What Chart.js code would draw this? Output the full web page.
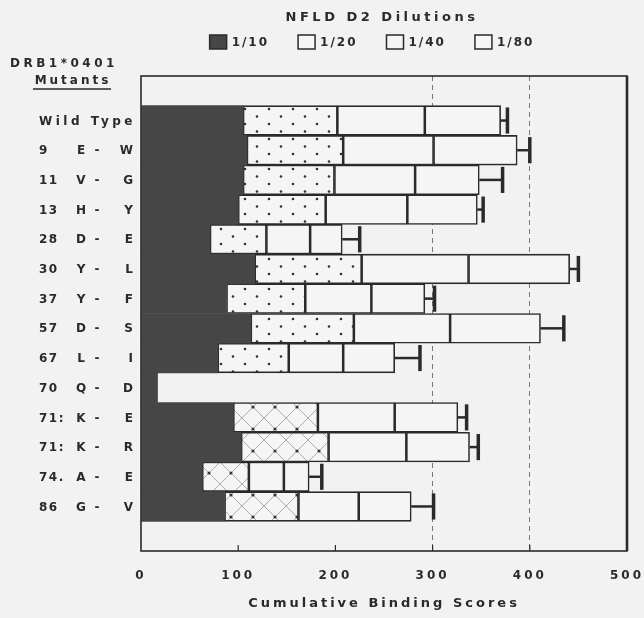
<!DOCTYPE html>
<html>
<head>
<meta charset="utf-8">
<script src="https://cdn.jsdelivr.net/npm/chart.js@4.4.1/dist/chart.umd.min.js"></script>
<style>
  html, body { margin: 0; padding: 0; background: #f2f2f2; }
  canvas { display: block; }
</style>
</head>
<body>
<canvas id="dilutions" width="644" height="618"></canvas>
<script>
// DRB1*0401 mutants, cumulative binding per dilution
const mutants = [
  "Wild Type",
  "9 E-W",
  "11 V-G",
  "13 H-Y",
  "28 D-E",
  "30 Y-L",
  "37 Y-F",
  "57 D-S",
  "67 L-I",
  "70 Q-D",
  "71: K-E",
  "71: K-R",
  "74. A-E",
  "86 G-V",
];
const dil10 = [105, 109, 105, 100, 71, 117, 88, 113, 79, 17, 95, 103, 63, 86];
const dil20 = [97, 99, 94, 90, 58, 110, 81, 106, 73, null, 87, 90, 48, 76];
const dil40 = [90, 93, 83, 84, 45, 110, 68, 99, 56, null, 79, 80, 36, 62];
const dil80 = [78, 86, 66, 72, 33, 104, 55, 93, 53, null, 65, 65, 26, 54];
const errors = [7, 13, 24, 6, 18, 9, 10, 24, 26, null, 9, 9, 13, 23];
const seriesNames = ["1/10", "1/20", "1/40", "1/80"];
const xTicks = [0, 100, 200, 300, 400, 500];

const FONT = "'DejaVu Sans', sans-serif";
const ink = "#2a2a2a";
const dark = "#464646";
const boxFill = "#f5f5f5";
// rows where the 1/20 block is cross-hatched instead of dotted
const crossRows = ["71: K-E", "71: K-R", "74. A-E", "86 G-V"];

const canvas = document.getElementById("dilutions");
const ctx = canvas.getContext("2d");

function makePattern(kind) {
  const c = document.createElement("canvas");
  c.width = kind === "dots" ? 24 : 22;
  c.height = kind === "dots" ? 15 : 22;
  const p = c.getContext("2d");
  p.fillStyle = boxFill;
  p.fillRect(0, 0, c.width, c.height);
  p.fillStyle = "#333";
  if (kind === "dots") {
    p.beginPath(); p.arc(5, 4, 1.3, 0, Math.PI * 2); p.fill();
    p.beginPath(); p.arc(17, 11.5, 1.3, 0, Math.PI * 2); p.fill();
  } else {
    p.strokeStyle = "#999";
    p.lineWidth = 0.8;
    p.beginPath();
    p.moveTo(0, 0); p.lineTo(22, 22);
    p.moveTo(22, 0); p.lineTo(0, 22);
    p.stroke();
    p.beginPath(); p.arc(11, 11, 1.6, 0, Math.PI * 2); p.fill();
  }
  return ctx.createPattern(c, "repeat");
}

const dots = makePattern("dots");
const cross = makePattern("cross");

// blank band above and below the rows
const pad = (arr) => [null, ...arr, null];
const rowLabels = ["", ...mutants, ""];
const totals = mutants.map((m, i) =>
  [dil10, dil20, dil40, dil80].reduce((s, a) => s + (a[i] || 0), 0)
);

const decor = {
  id: "decor",
  beforeUpdate(chart) {
    chart.ctx.letterSpacing = "3px";
  },
  beforeDraw(chart) {
    const c = chart.ctx;
    c.letterSpacing = "3px";
    c.save();
    c.fillStyle = "#f2f2f2";
    c.fillRect(0, 0, chart.width, chart.height);
    c.restore();
  },
  afterDatasetsDraw(chart) {
    const c = chart.ctx;
    const xs = chart.scales.x;
    const ys = chart.scales.y;
    const band = ys.getPixelForValue(2) - ys.getPixelForValue(1);
    c.save();
    c.strokeStyle = ink;
    mutants.forEach((m, i) => {
      if (errors[i] == null) return;
      const y = ys.getPixelForValue(i + 1);
      const x0 = xs.getPixelForValue(totals[i]);
      const x1 = xs.getPixelForValue(totals[i] + errors[i]);
      c.lineWidth = 2.5;
      c.beginPath();
      c.moveTo(x0, y);
      c.lineTo(x1, y);
      c.stroke();
      c.lineWidth = 3.5;
      c.beginPath();
      c.moveTo(x1, y - band * 0.44);
      c.lineTo(x1, y + band * 0.44);
      c.stroke();
    });
    c.restore();
  },
  afterDraw(chart) {
    const c = chart.ctx;
    const a = chart.chartArea;
    const xs = chart.scales.x;
    const ys = chart.scales.y;
    c.save();
    // frame
    c.strokeStyle = ink;
    c.lineWidth = 1.6;
    c.strokeRect(a.left, a.top, a.right - a.left, a.bottom - a.top);
    c.lineWidth = 2.6;
    c.beginPath();
    c.moveTo(a.right, a.top);
    c.lineTo(a.right, a.bottom);
    c.stroke();
    c.lineWidth = 1.2;
    xTicks.slice(1, -1).forEach((v) => {
      const x = xs.getPixelForValue(v);
      c.beginPath();
      c.moveTo(x, a.bottom);
      c.lineTo(x, a.bottom - 6);
      c.stroke();
    });

    const cx = (a.left + a.right) / 2;
    c.fillStyle = ink;
    c.textBaseline = "middle";

    // row labels, laid out in columns: position, from, dash, to
    c.font = "bold 12px " + FONT;
    mutants.forEach((m, i) => {
      const y = ys.getPixelForValue(i + 1) + 1;
      const parts = m.match(/^(\S+) (\w)-(\w)$/);
      if (!parts) {
        c.letterSpacing = "3.5px";
        c.textAlign = "right";
        c.fillText(m, a.left - 5, y);
        return;
      }
      c.letterSpacing = "1.5px";
      c.textAlign = "left";
      c.fillText(parts[1], a.left - 102, y);
      c.letterSpacing = "0px";
      c.textAlign = "center";
      c.fillText(parts[2], a.left - 60, y);
      c.fillText("-", a.left - 44, y);
      c.textAlign = "right";
      c.fillText(parts[3], a.left - 8, y);
    });

    // title
    c.font = "bold 13px " + FONT;
    c.letterSpacing = "3.5px";
    c.textAlign = "center";
    c.fillText("NFLD D2 Dilutions", cx - 2, 18);

    // legend
    c.font = "bold 12px " + FONT;
    c.letterSpacing = "2px";
    c.textAlign = "left";
    const boxW = 17, boxH = 14, gap = 5, space = 29;
    const widths = seriesNames.map((s) => boxW + gap + c.measureText(s).width);
    const total = widths.reduce((s, w) => s + w, 0) + space * (seriesNames.length - 1);
    let lx = cx - 12 - total / 2;
    const ly = 42;
    seriesNames.forEach((s, i) => {
      c.fillStyle = i === 0 ? dark : boxFill;
      c.fillRect(lx, ly - boxH / 2, boxW, boxH);
      c.strokeStyle = ink;
      c.lineWidth = 1.5;
      c.strokeRect(lx, ly - boxH / 2, boxW, boxH);
      c.fillStyle = ink;
      c.fillText(s, lx + boxW + gap, ly + 1);
      lx += widths[i] + space;
    });

    // row heading
    c.font = "bold 12px " + FONT;
    c.letterSpacing = "3.5px";
    c.fillText("DRB1*0401", 10, 64);
    c.letterSpacing = "3px";
    c.textAlign = "center";
    c.fillText("Mutants", 73, 81);
    c.lineWidth = 1.5;
    c.strokeStyle = ink;
    c.beginPath();
    c.moveTo(33, 89);
    c.lineTo(111, 89);
    c.stroke();
    c.restore();
  },
};

const outlined = {
  borderColor: ink,
  borderWidth: 1.6,
  borderSkipped: false,
};

new Chart(canvas, {
  type: "bar",
  data: {
    labels: rowLabels,
    datasets: [
      {
        label: seriesNames[0],
        data: pad(dil10),
        backgroundColor: dark,
        borderWidth: 0,
      },
      {
        label: seriesNames[1],
        data: pad(dil20),
        backgroundColor: pad(mutants.map((m) => (crossRows.includes(m) ? cross : dots))),
        ...outlined,
      },
      {
        label: seriesNames[2],
        data: pad(dil40),
        backgroundColor: boxFill,
        ...outlined,
      },
      {
        label: seriesNames[3],
        data: pad(dil80),
        backgroundColor: boxFill,
        ...outlined,
      },
    ],
  },
  options: {
    indexAxis: "y",
    responsive: false,
    animation: false,
    barPercentage: 1,
    categoryPercentage: 1,
    layout: { padding: { top: 76, right: 17, bottom: 3, left: 0 } },
    plugins: {
      legend: { display: false },
      title: { display: false },
      tooltip: { enabled: false },
    },
    scales: {
      x: {
        stacked: true,
        min: 0,
        max: 500,
        ticks: {
          stepSize: 100,
          padding: 18,
          maxRotation: 0,
          color: ink,
          font: { family: FONT, size: 12, weight: "bold" },
        },
        grid: {
          drawTicks: false,
          lineWidth: 1,
          color: (c) =>
            c.tick && (c.tick.value === 300 || c.tick.value === 400) ? "#777" : "rgba(0,0,0,0)",
        },
        border: { display: false, dash: [5, 4] },
        title: {
          display: true,
          text: "Cumulative Binding Scores",
          color: ink,
          font: { family: FONT, size: 13, weight: "bold" },
          padding: { top: 12, bottom: 4 },
        },
        afterFit: (scale) => {
          scale.height = 64;
          scale.paddingLeft = 0;
          scale.paddingRight = 0;
        },
      },
      y: {
        stacked: true,
        ticks: { display: false },
        grid: { display: false },
        border: { display: false },
        afterFit: (scale) => {
          scale.width = 141;
          scale.paddingTop = 0;
          scale.paddingBottom = 0;
        },
      },
    },
  },
  plugins: [decor],
});
</script>
</body>
</html>
